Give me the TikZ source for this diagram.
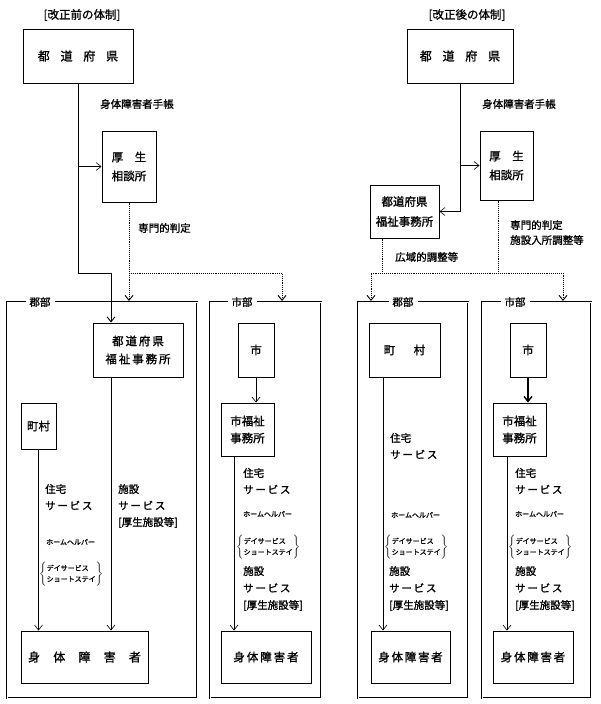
\documentclass[tikz,border=0pt]{standalone}
\usepackage{fontspec}
\setmainfont{Noto Sans CJK JP}[FakeBold=1.2]
\usetikzlibrary{arrows.meta,positioning,calc}

\newcommand{\fsbox}{\fontsize{11.5}{18}\selectfont}
\newcommand{\fslbl}{\fontsize{10.5}{15}\selectfont}
\newcommand{\fssvc}{\fontsize{10.5}{16.5}\selectfont}
\newcommand{\fssmall}{\fontsize{7}{11}\selectfont}
\newcommand{\fstitle}{\fontsize{11.5}{14}\selectfont}

\begin{document}
\begin{tikzpicture}[x=1pt, y=-1pt,
    box/.style={draw, line width=1pt, inner sep=0pt, align=center, font=\fsbox},
    frame/.style={draw, double, double distance=0.8pt, line width=0.8pt},
    framelbl/.style={fill=white, inner xsep=4pt, inner ysep=2pt, font=\fslbl},
    flow/.style={-{Straight Barb[length=5pt,width=8pt]}, line width=0.6pt},
    judge/.style={densely dotted, line width=0.9pt},
    judgearr/.style={judge, -{Straight Barb[length=5pt,width=8pt]}},
    judgeboth/.style={judge, {Straight Barb[length=5pt,width=8pt]}-{Straight Barb[length=5pt,width=8pt]}},
    lbl/.style={inner sep=0pt, anchor=west, font=\fslbl},
    svc/.style={inner sep=0pt, anchor=north west, align=left, font=\fssvc},
    helper/.style={inner sep=0pt, anchor=west, font=\fssmall}
]
    \fill[white] (0,0) rectangle (600,704);
    \useasboundingbox (0,0) rectangle (600,704);

    % Titles
    \node[font=\fstitle] (title1) at (82,15) {[改正前の体制]};
    \node[font=\fstitle] (title2) at (467,15) {[改正後の体制]};

    % Frames
    \draw[frame] (7,302) rectangle (197,698);
    \draw[frame] (210,302) rectangle (321,698);
    \draw[frame] (358,302) rectangle (468,698);
    \draw[frame] (482,302) rectangle (591,698);
    \node[framelbl] (gun1) at (40,302) {郡部};
    \node[framelbl] (shibu1) at (242,302) {市部};
    \node[framelbl] (gun2) at (403,302) {郡部};
    \node[framelbl] (shibu2) at (515,302) {市部};

    % Before the reform
    \node[box, minimum width=110, minimum height=54, font=\fontsize{12}{14}\selectfont] (pref1) at (78,56)
        {都\hspace{0.9em}道\hspace{0.9em}府\hspace{0.9em}県};
    \node[box, minimum width=54, minimum height=71, font=\fontsize{11.5}{19}\selectfont] (kosei1) at (129,166.5)
        {厚\hspace{1em}生\\相談所};
    \node[box, minimum width=90, minimum height=54] (fukushi1) at (138,350)
        {都\,道\,府\,県\\福\,祉\,事\,務\,所};
    \node[box, minimum width=35, minimum height=46] (chouson1) at (38.5,426) {町村};
    \node[box, minimum width=127, minimum height=52, font=\fontsize{12}{14}\selectfont] (shintai1) at (84.5,657)
        {身\hspace{1.1em}体\hspace{1.1em}障\hspace{1.1em}害\hspace{1.1em}者};
    \node[box, minimum width=36, minimum height=54] (shi1) at (256,350) {市};
    \node[box, minimum width=53, minimum height=53, font=\fontsize{11.5}{17}\selectfont] (shifuku1) at (247.5,429.5)
        {市福祉\\事務所};
    \node[box, minimum width=90, minimum height=52] (shintai2) at (266,657)
        {身\,体\,障\,害\,者};

    \node[lbl] (techo1) at (100,104) {身体障害者手帳};
    \node[lbl] (hantei1) at (138,228) {専門的判定};

    \coordinate (bend1) at (111,273);
    \coordinate (dot1) at (129,273);
    \coordinate (gun1top) at (129,301);
    \coordinate (shi1top) at (282,301);

    \draw[flow, line width=0.9pt] (pref1.south) |- (bend1) -- (bend1 |- fukushi1.north);
    \draw[flow] (pref1.south |- kosei1.west) -- (kosei1.west);
    \draw[judgearr] (kosei1.south) -- (gun1top);
    \draw[judgearr] (dot1) -| (shi1top);

    \draw[flow] ([xshift=-27pt]fukushi1.south) -- ([xshift=-27pt]fukushi1.south |- shintai1.north);
    \draw[flow] (chouson1.south) -- (chouson1.south |- shintai1.north);
    \draw[flow] (shi1.south) -- (shi1.south |- shifuku1.north);
    \draw[flow] ([xshift=-13.5pt]shifuku1.south) -- ([xshift=-13.5pt]shifuku1.south |- shintai2.north);

    \node[svc] (jutaku1) at (45,484) {住宅\\サ\,ー\,ビ\,ス};
    \node[helper] (helper1) at (46,542) {ホームヘルパー};
    \node[helper] (day1) at (39,574)
        {$\left\{\mbox{\begin{tabular}{@{}l@{}}デイサービス\\ショートステイ\end{tabular}}\right\}$};
    \node[svc] (shisetsu1) at (118,484) {施設\\サ\,ー\,ビ\,ス\\{[厚生施設等]}};

    \node[svc] (jutaku2) at (243,468) {住宅\\サ\,ー\,ビ\,ス};
    \node[helper] (helper2) at (243,514) {ホームヘルパー};
    \node[helper] (day2) at (236,547)
        {$\left\{\mbox{\begin{tabular}{@{}l@{}}デイサービス\\ショートステイ\end{tabular}}\right\}$};
    \node[svc, font=\fontsize{10.5}{17}\selectfont] (shisetsu2) at (243,566) {施設\\サ\,ー\,ビ\,ス\\{[厚生施設等]}};

    % After the reform
    \node[box, minimum width=106, minimum height=54, font=\fontsize{12}{14}\selectfont] (pref2) at (460,56)
        {都\hspace{0.9em}道\hspace{0.9em}府\hspace{0.9em}県};
    \node[box, minimum width=53, minimum height=69, font=\fontsize{11.5}{19}\selectfont] (kosei2) at (506.5,165.5)
        {厚\hspace{1em}生\\相談所};
    \node[box, minimum width=69, minimum height=53, font=\fontsize{11.5}{20}\selectfont] (fukushi2) at (404.5,211.5)
        {都道府県\\福祉事務所};
    \node[box, minimum width=71, minimum height=54] (chouson2) at (404.5,350) {町\hspace{1.6em}村};
    \node[box, minimum width=79, minimum height=52] (shintai3) at (410.5,657)
        {身\hspace{0.15em}体\hspace{0.15em}障\hspace{0.15em}害\hspace{0.15em}者};
    \node[box, minimum width=36, minimum height=54] (shi2) at (528,350) {市};
    \node[box, minimum width=53, minimum height=53, font=\fontsize{11.5}{17}\selectfont] (shifuku2) at (519.5,429.5)
        {市福祉\\事務所};
    \node[box, minimum width=80, minimum height=52] (shintai4) at (533,657)
        {身\hspace{0.15em}体\hspace{0.15em}障\hspace{0.15em}害\hspace{0.15em}者};

    \node[lbl] (techo2) at (482,104) {身体障害者手帳};
    \node[lbl, anchor=north west, align=left] (hantei2) at (510,220) {専門的判定\\施設入所調整等};
    \node[lbl] (kouiki) at (395,257) {広域的調整等};

    \coordinate (dot2L) at (371,273);
    \coordinate (dot2R) at (563,273);
    \coordinate (gun2top) at (371,301);
    \coordinate (shi2top) at (563,301);

    \draw[flow] (pref2.south) |- (fukushi2.east);
    \draw[flow] (pref2.south |- kosei2.west) -- (kosei2.west);
    \draw[judge] ([xshift=-22.5pt]fukushi2.south) -- ([xshift=-22.5pt]fukushi2.south |- dot2L);
    \draw[judge] ([xshift=-8.5pt]kosei2.south) -- ([xshift=-8.5pt]kosei2.south |- dot2L);
    \draw[judgeboth] (gun2top) -- (dot2L) -- (dot2R) -- (shi2top);

    \draw[flow] ([xshift=-21.5pt]chouson2.south) -- ([xshift=-21.5pt]chouson2.south |- shintai3.north);
    \draw[flow, line width=1.4pt] (shi2.south) -- (shi2.south |- shifuku2.north);
    \draw[flow] ([xshift=-12.5pt]shifuku2.south) -- ([xshift=-12.5pt]shifuku2.south |- shintai4.north);

    \node[svc] (jutaku3) at (390,433) {住宅\\サ\,ー\,ビ\,ス};
    \node[helper] (helper3) at (391,515) {ホームヘルパー};
    \node[helper] (day3) at (384,547)
        {$\left\{\mbox{\begin{tabular}{@{}l@{}}デイサービス\\ショートステイ\end{tabular}}\right\}$};
    \node[svc, font=\fontsize{10.5}{17}\selectfont] (shisetsu3) at (389,566) {施設\\サ\,ー\,ビ\,ス\\{[厚生施設等]}};

    \node[svc] (jutaku4) at (515,468) {住宅\\サ\,ー\,ビ\,ス};
    \node[helper] (helper4) at (515,514) {ホームヘルパー};
    \node[helper] (day4) at (508,547)
        {$\left\{\mbox{\begin{tabular}{@{}l@{}}デイサービス\\ショートステイ\end{tabular}}\right\}$};
    \node[svc, font=\fontsize{10.5}{17}\selectfont] (shisetsu4) at (515,566) {施設\\サ\,ー\,ビ\,ス\\{[厚生施設等]}};
\end{tikzpicture}
\end{document}
